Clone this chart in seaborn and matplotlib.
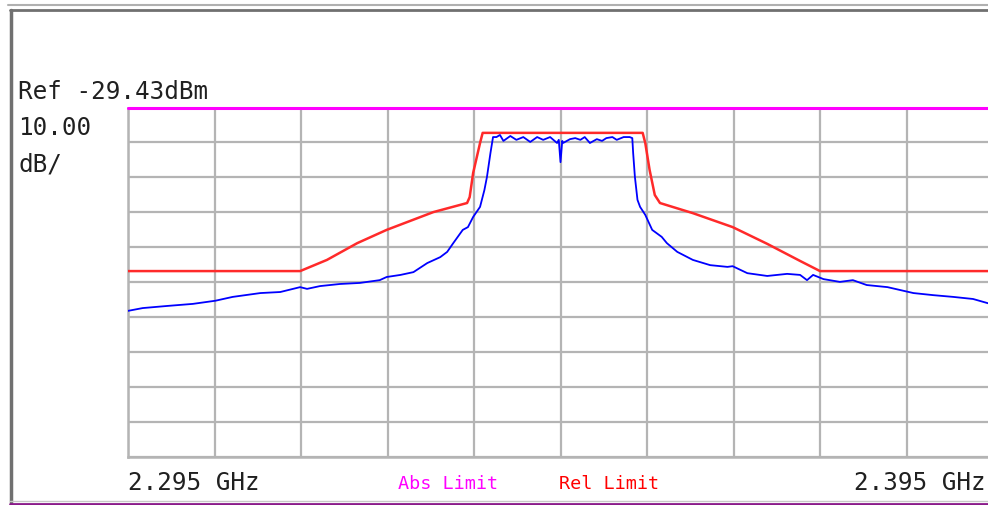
import matplotlib
matplotlib.use("Agg")
import matplotlib.pyplot as plt
from matplotlib.lines import Line2D
import pandas as pd
import seaborn as sns

# ---------------- data ----------------
ref_level_dbm = -29.43
db_per_div = 10.0
n_div = 10
start_ghz = 2.295
stop_ghz = 2.395
start_label = "2.295 GHz"
stop_label = "2.395 GHz"
scale_label_value = "10.00"
scale_label_unit = "dB/"
abs_label = "Abs Limit"
rel_label = "Rel Limit"

trace_freq_mhz = [
    2295.0, 2296.7, 2299.5, 2302.5, 2305.1, 2307.1, 2310.3, 2312.6, 2314.9, 2315.7,
    2317.2, 2319.5, 2321.8, 2324.1, 2324.9, 2326.5, 2328.0, 2329.6, 2331.1, 2331.9,
    2332.6, 2333.7, 2334.3, 2334.9, 2335.7, 2336.2, 2336.5, 2336.9, 2337.2, 2337.6,
    2338.0, 2338.4, 2339.2, 2339.9, 2340.7, 2341.5, 2342.3, 2343.0, 2343.8, 2344.6,
    2344.8, 2345.0, 2345.2, 2345.3, 2346.1, 2346.7, 2347.3, 2347.8, 2348.4, 2349.2,
    2349.8, 2350.3, 2351.0, 2351.5, 2352.3, 2353.0, 2353.3, 2353.4, 2353.6, 2353.9,
    2354.2, 2354.8, 2355.6, 2356.7, 2357.3, 2358.5, 2360.3, 2362.3, 2364.3, 2364.9,
    2366.6, 2368.9, 2371.2, 2372.7, 2373.5, 2374.2, 2375.4, 2377.3, 2378.8, 2380.4,
    2382.8, 2385.8, 2388.1, 2390.4, 2392.7, 2394.4, 2395.0,
]
trace_level_dbm = [
    -87.7, -86.9, -86.3, -85.7, -84.8, -83.7, -82.6, -82.3, -80.9, -81.4,
    -80.6, -80.0, -79.7, -78.9, -78.0, -77.4, -76.6, -74.0, -72.3, -70.8,
    -68.3, -64.5, -63.7, -60.8, -57.9, -53.1, -49.3, -42.5, -37.9, -37.9,
    -37.3, -39.0, -37.6, -38.7, -37.9, -39.3, -37.9, -38.7, -37.9, -39.6,
    -38.7, -45.1, -39.0, -39.6, -38.5, -38.2, -38.7, -37.9, -39.6, -38.5,
    -39.0, -38.2, -37.9, -38.7, -37.9, -37.9, -38.2, -42.5, -49.3, -55.9,
    -57.9, -60.2, -64.5, -66.5, -68.3, -70.8, -73.1, -74.6, -75.1, -74.9,
    -76.9, -77.7, -77.1, -77.4, -78.9, -77.4, -78.6, -79.4, -78.9, -80.3,
    -80.9, -82.6, -83.2, -83.7, -84.3, -85.5, -85.7,
]

rel_limit_freq_mhz = [
    2295.0, 2314.9, 2318.0, 2321.5, 2324.9, 2330.3, 2334.2, 2334.5, 2334.9, 2335.7,
    2336.0, 2354.5, 2354.8, 2355.3, 2355.9, 2356.5, 2360.3, 2364.9, 2368.9, 2372.7,
    2375.0, 2395.0,
]
rel_limit_dbm = [
    -76.3, -76.3, -73.1, -68.3, -64.5, -59.4, -56.8, -55.1, -48.2, -39.6,
    -36.7, -36.7, -39.6, -47.3, -54.5, -56.8, -59.7, -63.7, -68.5, -73.4,
    -76.3, -76.3,
]

abs_limit_freq_mhz = [2295.0, 2395.0]
abs_limit_dbm = [-29.43, -29.43]

# ---------------- style ----------------
sns.set_style("white")
plt.rcParams["font.family"] = ["DejaVu Sans Mono", "DejaVu Sans"]

W, H = 988, 505
fig = plt.figure(figsize=(W / 100, H / 100), dpi=100, facecolor="white")

# plot area in pixel geometry (extends slightly past the right edge like the screenshot)
left_px, top_px, bottom_px = 128, 107.5, 456.5
div_px = 86.5
ax = fig.add_axes([left_px / W, 1 - bottom_px / H, div_px * n_div / W, (bottom_px - top_px) / H])
ax.set_facecolor("white")

trace_df = pd.DataFrame({"freq_ghz": [f / 1000 for f in trace_freq_mhz], "level": trace_level_dbm})
rel_df = pd.DataFrame({"freq_ghz": [f / 1000 for f in rel_limit_freq_mhz], "level": rel_limit_dbm})
abs_df = pd.DataFrame({"freq_ghz": [f / 1000 for f in abs_limit_freq_mhz], "level": abs_limit_dbm})

bottom_db = ref_level_dbm - db_per_div * n_div
ax.set_xlim(start_ghz, stop_ghz)
ax.set_ylim(bottom_db, ref_level_dbm)

grid_color = "#b4b4b4"
ax.set_xticks([start_ghz + i * (stop_ghz - start_ghz) / n_div for i in range(n_div + 1)])
ax.set_yticks([bottom_db + i * db_per_div for i in range(n_div + 1)])
ax.tick_params(length=0, labelbottom=False, labelleft=False)
ax.grid(True, color=grid_color, linewidth=1.6)
for s in ["top", "right"]:
    ax.spines[s].set_visible(False)
for s in ["left", "bottom"]:
    ax.spines[s].set_color(grid_color)
    ax.spines[s].set_linewidth(1.8)

sns.lineplot(data=rel_df, x="freq_ghz", y="level", ax=ax, color="#ff2a2a",
             linewidth=1.8, estimator=None, sort=False, zorder=3)
sns.lineplot(data=trace_df, x="freq_ghz", y="level", ax=ax, color="#0000ff",
             linewidth=1.3, estimator=None, sort=False, zorder=4)
sns.lineplot(data=abs_df, x="freq_ghz", y="level", ax=ax, color="#ff00ff",
             linewidth=2.2, estimator=None, sort=False, zorder=5)
ax.lines[-1].set_clip_on(False)
ax.set_xlabel("")
ax.set_ylabel("")

# ---------------- annotations ----------------
big = 17.5
small = 13.3
fig.text(18 / W, 1 - 99 / H, f"Ref {ref_level_dbm:.2f}dBm", fontsize=big, va="baseline", ha="left", color="#202020")
fig.text(18 / W, 1 - 135 / H, scale_label_value, fontsize=big, va="baseline", ha="left", color="#202020")
fig.text(18 / W, 1 - 171 / H, scale_label_unit, fontsize=big, va="baseline", ha="left", color="#202020")
fig.text(128 / W, 1 - 490 / H, start_label, fontsize=big, va="baseline", ha="left", color="#202020")
fig.text(986 / W, 1 - 490 / H, stop_label, fontsize=big, va="baseline", ha="right", color="#202020")
fig.text(398 / W, 1 - 489 / H, abs_label, fontsize=small, va="baseline", ha="left", color="#ff00ff")
fig.text(559 / W, 1 - 489 / H, rel_label, fontsize=small, va="baseline", ha="left", color="#ff0000")

# ---------------- outer frame ----------------
def fx(x):
    return x / W

def fy(y):
    return 1 - y / H

fig.add_artist(Line2D([fx(8), fx(W)], [fy(5), fy(5)], color="#b0b0b0", linewidth=1.5))
fig.add_artist(Line2D([fx(10), fx(W)], [fy(10), fy(10)], color="#707070", linewidth=2.0))
fig.add_artist(Line2D([fx(11), fx(11)], [fy(10), fy(503)], color="#707070", linewidth=2.5))
fig.add_artist(Line2D([fx(10), fx(W)], [fy(501), fy(501)], color="#c8c8c8", linewidth=1.0))
fig.add_artist(Line2D([fx(10), fx(W)], [fy(504), fy(504)], color="#8a1a8a", linewidth=2.0))

fig.savefig("out.png", dpi=100, facecolor="white")
